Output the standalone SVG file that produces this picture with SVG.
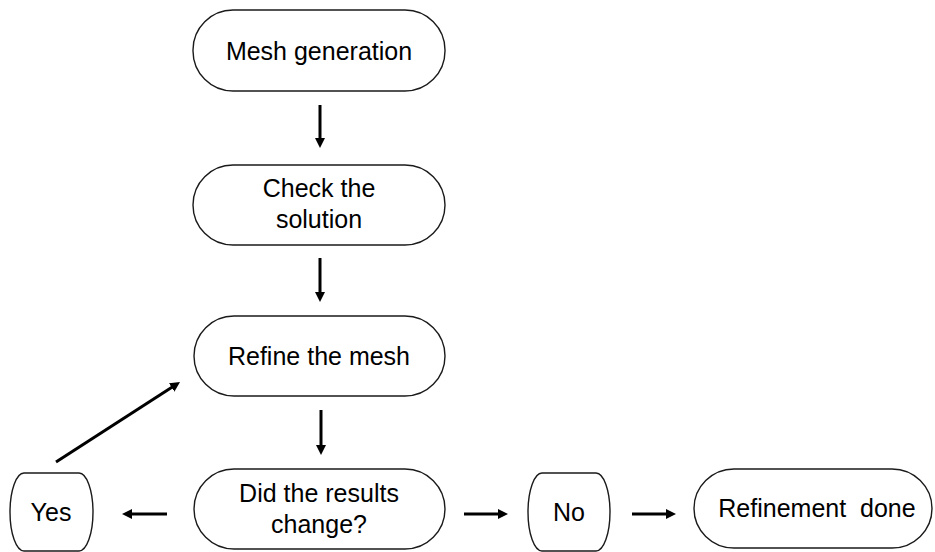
<svg xmlns="http://www.w3.org/2000/svg" width="935" height="552" viewBox="0 0 935 552">
<style>
.node{fill:#fff;stroke:#1a1a1a;stroke-width:1.4}
.lbl{font-family:"Liberation Sans",Arial,sans-serif;font-size:25px;fill:#000;text-anchor:middle}
.conn{stroke:#000;stroke-width:3;fill:none}
</style>
<defs>
<marker id="ah" viewBox="0 0 10 10" refX="4" refY="5" markerWidth="10" markerHeight="10" markerUnits="userSpaceOnUse" orient="auto">
<path d="M0,0 L10,5 L0,10 z" fill="#000"/>
</marker>
</defs>
<rect width="935" height="552" fill="#fff"/>
<g id="mesh-generation">
<rect class="node" x="193" y="10" width="252" height="81" rx="40" ry="40"/>
<text class="lbl" x="319" y="60">Mesh generation</text>
</g>
<g id="check-solution">
<rect class="node" x="193" y="165" width="252" height="80" rx="40" ry="40"/>
<text class="lbl" x="319" y="197">Check the</text>
<text class="lbl" x="319" y="228">solution</text>
</g>
<g id="refine-mesh">
<rect class="node" x="194" y="316" width="251" height="80" rx="40" ry="40"/>
<text class="lbl" x="319" y="365">Refine the mesh</text>
</g>
<g id="did-change">
<rect class="node" x="194" y="469" width="251" height="80" rx="40" ry="40"/>
<text class="lbl" x="319" y="502">Did the results</text>
<text class="lbl" x="319" y="533">change?</text>
</g>
<g id="yes">
<rect class="node" x="10" y="473" width="83" height="78" rx="14" ry="39"/>
<text class="lbl" x="51" y="521">Yes</text>
</g>
<g id="no">
<rect class="node" x="528" y="473" width="82" height="78" rx="14" ry="39"/>
<text class="lbl" x="569" y="521">No</text>
</g>
<g id="refinement-done">
<rect class="node" x="694" y="469" width="238" height="79" rx="40" ry="40"/>
<text class="lbl" x="817" y="517" style="white-space:pre">Refinement  done</text>
</g>
<g id="connectors">
<line class="conn" x1="320" y1="105" x2="320" y2="142" marker-end="url(#ah)"/>
<line class="conn" x1="320" y1="258" x2="320" y2="296" marker-end="url(#ah)"/>
<line class="conn" x1="321" y1="410" x2="321" y2="449" marker-end="url(#ah)"/>
<line class="conn" x1="167" y1="514" x2="128" y2="514" marker-end="url(#ah)"/>
<line class="conn" x1="464" y1="514" x2="502" y2="514" marker-end="url(#ah)"/>
<line class="conn" x1="632" y1="514" x2="670" y2="514" marker-end="url(#ah)"/>
<line class="conn" x1="56" y1="462" x2="175" y2="385.3" marker-end="url(#ah)"/>
</g>
</svg>
